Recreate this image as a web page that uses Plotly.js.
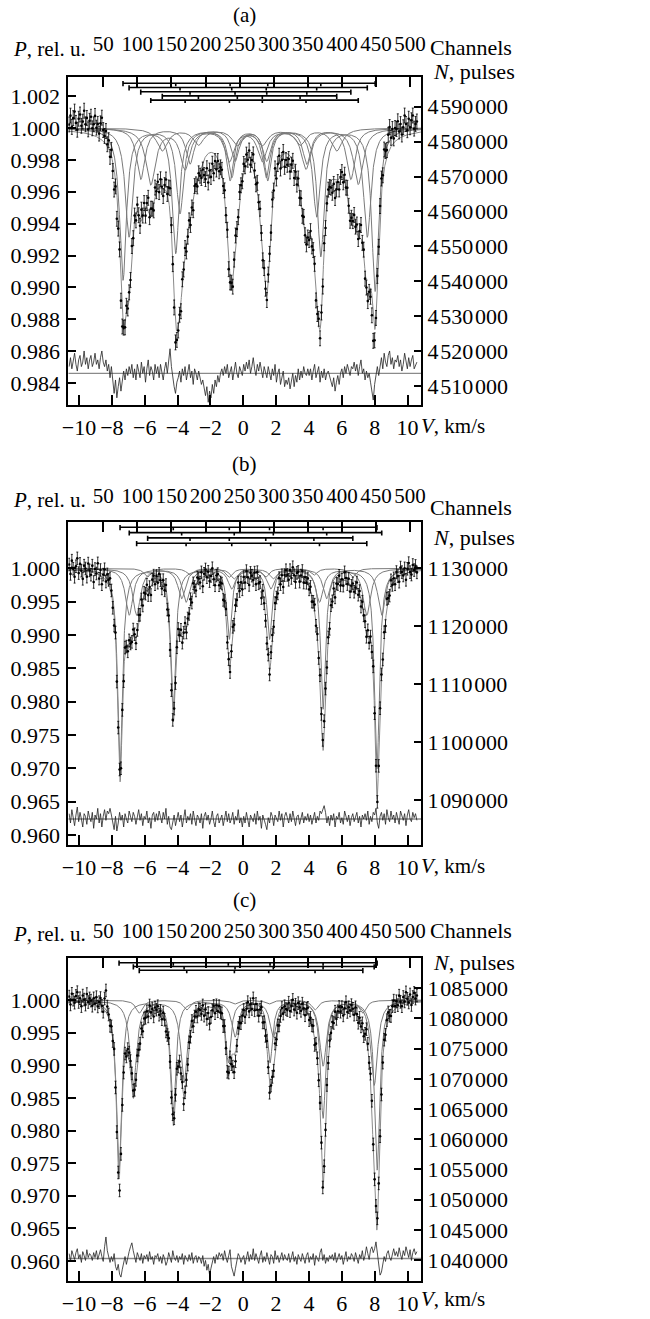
<!DOCTYPE html>
<html><head><meta charset="utf-8">
<script src="https://cdn.plot.ly/plotly-3.0.1.min.js"></script>
<style>html,body{margin:0;padding:0;background:#fff}#chart{width:650px;height:1319px}</style>
</head><body><div id="chart"></div>
<script>
// ---------------- DATA ----------------
const panelLabels = ['(a)', '(b)', '(c)'];
const velocityTicks = [-10, -8, -6, -4, -2, 0, 2, 4, 6, 8, 10];
const channelTicks = [50, 100, 150, 200, 250, 300, 350, 400, 450, 500];
const pTicksA = [0.984, 0.986, 0.988, 0.990, 0.992, 0.994, 0.996, 0.998, 1.000, 1.002];
const pTicksB = [0.960, 0.965, 0.970, 0.975, 0.980, 0.985, 0.990, 0.995, 1.000];
const pTicksC = [0.960, 0.965, 0.970, 0.975, 0.980, 0.985, 0.990, 0.995, 1.000];
const nTicksA = [4510000, 4520000, 4530000, 4540000, 4550000, 4560000, 4570000, 4580000, 4590000];
const nTicksB = [1090000, 1100000, 1110000, 1120000, 1130000];
const nTicksC = [1040000, 1045000, 1050000, 1055000, 1060000, 1065000, 1070000, 1075000, 1080000, 1085000];
// counts at P = 1 (baseline), used for the statistical error bars
const baseCountsA = 4584000, baseCountsB = 1130000, baseCountsC = 1083000;
// velocity calibration: channel -> km/s
const V0 = -10.60, DV = 0.04151;

// sextet line positions (km/s), line depths, line widths (FWHM, km/s)
const sextetPosA = [
  [-7.32, -4.11, -0.80, 1.49, 4.72, 8.03],
  [-6.95, -3.85, -0.70, 1.40, 4.47, 7.55],
  [-6.24, -3.24, -0.50, 1.43, 3.87, 6.55],
  [-4.93, -2.73, -0.36, 1.16, 3.46, 5.69],
  [-5.63, -3.54, -0.84, 1.16, 3.82, 7.00]];
const sextetDepA = [
  [0.0095, 0.0078, 0.0032, 0.0032, 0.0080, 0.0102],
  [0.0068, 0.0053, 0.0030, 0.0030, 0.0055, 0.0068],
  [0.0032, 0.0022, 0.0020, 0.0020, 0.0022, 0.0032],
  [0.0014, 0.0010, 0.0010, 0.0010, 0.0010, 0.0014],
  [0.0035, 0.0025, 0.0020, 0.0020, 0.0025, 0.0035]];
const sextetWidA = [0.50, 0.55, 0.60, 0.80, 0.70];
const stickOrderA = [0, 1, 2, 3, 4];

const sextetPosB = [
  [-7.50, -4.26, -0.85, 1.60, 4.86, 8.14],
  [-6.94, -3.75, -0.55, 1.83, 5.08, 8.43],
  [-6.49, -3.48, -0.70, 1.67, 4.64, 7.52],
  [-5.82, -3.24, -0.85, 1.37, 4.30, 6.67]];
const sextetDepB = [
  [0.0300, 0.0210, 0.0105, 0.0105, 0.0210, 0.0300],
  [0.0070, 0.0045, 0.0015, 0.0015, 0.0045, 0.0070],
  [0.0070, 0.0050, 0.0030, 0.0030, 0.0050, 0.0070],
  [0.0013, 0.0010, 0.0013, 0.0013, 0.0010, 0.0013]];
const sextetWidB = [0.36, 0.55, 0.55, 0.50];
const stickOrderB = [0, 1, 3, 2];

const sextetPosC = [
  [-7.56, -4.26, -0.91, 1.63, 4.86, 8.15],
  [-6.69, -3.60, -0.50, 1.83, 4.86, 7.97],
  [-6.33, -3.44, -0.54, 1.55, 4.37, 7.28]];
const sextetDepC = [
  [0.0262, 0.0172, 0.0095, 0.0095, 0.0180, 0.0260],
  [0.0130, 0.0125, 0.0055, 0.0055, 0.0100, 0.0130],
  [0.0020, 0.0015, 0.0006, 0.0006, 0.0015, 0.0020]];
const sextetWidC = [0.38, 0.50, 0.50];
const stickOrderC = [0, 1, 2];

// residuals (data - fit) every second channel, in units of residUnit
const residUnitA = 1.4e-4, residUnitB = 2e-4, residUnitC = 1.5e-4;
const residA = [
  3,7,2,6,9,4,1,6,8,3,5,10,4,7,2,6,
  8,3,5,9,4,6,2,7,10,5,3,6,1,4,-2,3,
  -4,-9,-3,-11,-6,-2,-8,-4,1,-3,2,-1,3,0,4,-2,
  2,-3,4,1,-2,5,0,3,-4,2,6,-1,3,1,-3,4,
  0,3,-2,4,1,-3,2,5,0,6,11,3,-2,-6,-9,-4,
  -2,1,-4,2,-1,3,-3,0,4,-2,1,-5,2,0,-3,1,
  -2,-5,-3,-7,-10,-6,-13,-8,-11,-5,-9,-3,-6,-1,-4,0,
  2,-1,3,0,4,-2,1,3,-3,2,5,0,-2,3,1,-1,
  4,1,5,2,6,0,3,7,2,-1,4,1,5,2,-2,3,
  1,-2,3,0,-3,2,-1,4,-4,0,2,-5,-2,1,-6,-3,
  -5,-2,-7,-3,0,-6,-1,-4,2,-3,1,-2,3,0,-1,2,
  -1,2,-3,1,4,-2,0,3,-4,1,-2,2,-3,0,1,-1,
  -3,-6,-2,-8,-4,-1,-5,0,2,-2,3,0,4,1,-1,3,
  2,5,1,4,-1,3,6,0,2,-3,1,-2,0,-4,-9,-12,
  -5,0,3,-1,4,7,2,9,5,3,8,10,4,7,2,6,
  5,8,3,6,1,4,9,5,2,7,3,6,8,2,4,5];
const residB = [
  4,-3,7,1,-5,3,9,-2,5,0,-6,4,2,-4,6,1,
  -2,5,-7,3,0,8,-3,4,-6,2,7,-1,6,4,8,3,
  -4,-8,2,-9,-3,5,-1,3,-6,4,0,-3,6,1,-2,5,
  2,-4,3,7,-1,4,-5,2,0,6,-3,1,-7,3,5,-2,
  4,-1,6,2,-3,5,0,8,-4,2,-6,-8,-2,3,-5,1,
  5,-2,3,-6,1,7,-3,2,-1,4,-4,6,0,-5,3,1,
  -3,4,-7,2,5,-1,3,-4,0,6,-2,-6,2,4,-3,1,
  3,-5,1,6,-2,4,-3,0,5,-4,2,-1,7,-3,1,-6,
  2,-3,5,0,-6,3,1,-2,4,-4,6,-1,2,-7,3,0,
  -4,-8,1,-3,5,2,-5,3,0,-2,6,-1,4,-6,2,5,
  1,-3,4,-2,6,0,-5,2,3,-4,1,5,-3,2,-1,4,
  -2,3,-4,1,5,-3,2,-1,6,4,7,10,5,-3,2,-5,
  3,-1,4,-6,2,0,5,-3,1,-4,6,2,-2,3,-5,1,
  4,-2,1,5,-3,2,-6,3,0,4,-1,6,-4,2,-2,5,
  3,8,-3,-7,2,5,-1,4,-4,7,1,-2,6,0,3,-3,
  5,1,-4,6,2,-1,4,-5,3,7,0,-2,5,1,4,-1];
const residC = [
  5,-3,8,2,-1,6,10,0,4,-4,7,3,-2,9,1,5,
  3,-2,6,1,8,-1,4,9,2,-3,12,22,8,3,-4,2,
  -3,5,-8,-12,-6,-16,-19,-11,-4,2,-6,3,7,12,16,8,
  2,-4,6,1,-2,5,-5,3,0,4,-3,7,-1,2,-6,3,
  1,5,-3,2,-5,4,0,-7,-3,6,2,-4,8,1,-2,3,
  -4,2,-1,5,-6,3,0,-3,4,-2,6,-5,1,3,-4,2,
  0,-5,3,-8,-2,-12,-6,-17,-10,-3,2,-5,4,-1,6,2,
  5,-2,8,1,-4,3,9,-8,-13,-18,-10,-3,5,2,-4,0,
  3,-6,1,7,-3,4,-1,10,-2,5,0,-5,3,8,-4,2,
  -3,6,0,-6,4,2,-5,8,-1,3,-4,1,6,-2,4,0,
  -2,5,-4,1,7,-3,2,-6,4,0,-3,5,1,-5,3,6,
  -4,2,-1,5,-7,3,0,-3,6,10,-2,4,-5,1,-3,3,
  0,4,-2,6,-4,2,5,-1,3,-6,1,7,-3,2,-1,5,
  2,-3,6,1,-5,4,0,8,-2,3,12,5,-1,9,12,6,
  10,17,6,-8,-17,-14,-6,2,-3,5,8,1,-2,6,10,3,
  7,2,11,4,-1,8,3,12,5,1,9,-2,6,10,4,7];
// level of the residual baseline on the P scale
const residBaseA = 0.98461, residBaseB = 0.9624, residBaseC = 0.96038;

// ---------------- LAYOUT / DRAWING ----------------
const W = 650, H = 1319;
const XL = 68.3, XR = 421;
const VRANGE = [-10.65, 10.82];
const FONT = "'Liberation Serif', 'Times New Roman', Times, 'DejaVu Serif', serif";
const FS = 21, TFS = 22;
const panels = [
  {pos: sextetPosA, dep: sextetDepA, wid: sextetWidA, sticks: stickOrderA, resid: residA, unit: residUnitA, rbase: residBaseA,
   n0: baseCountsA, pTicks: pTicksA, nTicks: nTicksA, pRange: [0.98262, 1.00322], nRange: [4504527, 4598596],
   top: 76.7, bottom: 405, stick0: 6.6, stickGap: 4.2, chStand: 15, labelY: 15, titleY: 49, chanY: 48, nY: 72, vY: 426},
  {pos: sextetPosB, dep: sextetDepB, wid: sextetWidB, sticks: stickOrderB, resid: residB, unit: residUnitB, rbase: residBaseB,
   n0: baseCountsB, pTicks: pTicksB, nTicks: nTicksB, pRange: [0.9585, 1.00699], nRange: [1082241, 1138034],
   top: 521.7, bottom: 845, stick0: 5.6, stickGap: 5.3, chStand: 8, labelY: 464, titleY: 500, chanY: 507, nY: 538, vY: 866},
  {pos: sextetPosC, dep: sextetDepC, wid: sextetWidC, sticks: stickOrderC, resid: residC, unit: residUnitC, rbase: residBaseC,
   n0: baseCountsC, pTicks: pTicksC, nTicks: nTicksC, pRange: [0.95693, 1.00649], nRange: [1036523, 1090066],
   top: 957.7, bottom: 1281, stick0: 5.0, stickGap: 3.8, chStand: 9, labelY: 900, titleY: 934, chanY: 931, nY: 962, vY: 1299}
];

function absorb(v, pos, dep, w) {
  const h = (w / 2) * (w / 2);
  let s = 0;
  for (let j = 0; j < pos.length; j++) s += dep[j] * h / ((v - pos[j]) * (v - pos[j]) + h);
  return s;
}
function fmtN(n) {
  const s = String(n);
  return s.slice(0, s.length - 6) + '\u200A' + s.slice(-6, -3) + '\u200A' + s.slice(-3);
}

const vFine = [];
for (let v = VRANGE[0]; v <= VRANGE[1] + 1e-9; v += 0.01) vFine.push(v);

const traces = [];
const layout = {
  width: W, height: H, margin: {l: 0, r: 0, t: 0, b: 0},
  paper_bgcolor: '#fff', plot_bgcolor: 'rgba(0,0,0,0)', showlegend: false,
  font: {family: FONT, size: FS, color: '#000'},
  annotations: []
};
const axBase = {showline: true, linewidth: 2, linecolor: '#000', ticks: 'inside', tickwidth: 2, tickcolor: '#000',
  tickangle: 0, showgrid: false, zeroline: false, fixedrange: true, tickfont: {family: FONT, size: TFS, color: '#000'}};

panels.forEach((P, k) => {
  const nx = 2 * k + 1, nx2 = 2 * k + 2;
  const xName = nx === 1 ? 'x' : 'x' + nx, x2Name = 'x' + nx2;
  const yName = nx === 1 ? 'y' : 'y' + nx, y2Name = 'y' + nx2;
  const xKey = nx === 1 ? 'xaxis' : 'xaxis' + nx, x2Key = 'xaxis' + nx2;
  const yKey = nx === 1 ? 'yaxis' : 'yaxis' + nx, y2Key = 'yaxis' + nx2;
  const pxPerP = (P.bottom - P.top) / (P.pRange[1] - P.pRange[0]);

  // sub-spectra
  P.pos.forEach((pos, s) => {
    traces.push({x: vFine, y: vFine.map(v => 1 - absorb(v, pos, P.dep[s], P.wid[s])), xaxis: xName, yaxis: yName,
      mode: 'lines', line: {color: '#7a7a7a', width: 1}, hoverinfo: 'skip'});
  });
  // envelope
  const fitAt = v => 1 - P.pos.reduce((a, pos, s) => a + absorb(v, pos, P.dep[s], P.wid[s]), 0);
  traces.push({x: vFine, y: vFine.map(fitAt), xaxis: xName, yaxis: yName, mode: 'lines',
    line: {color: '#8a8a8a', width: 1}, hoverinfo: 'skip'});
  // residual baseline
  traces.push({x: VRANGE, y: [P.rbase, P.rbase], xaxis: xName, yaxis: yName, mode: 'lines',
    line: {color: '#8a8a8a', width: 1.3}, hoverinfo: 'skip'});
  // experimental points and residual
  const vs = P.resid.map((r, i) => V0 + DV * 2 * i);
  const err = 1 / Math.sqrt(P.n0);
  traces.push({x: vs, y: P.resid.map(r => P.rbase + r * P.unit), xaxis: xName, yaxis: yName, mode: 'lines',
    line: {color: '#222', width: 0.8}, hoverinfo: 'skip'});
  traces.push({x: vs, y: vs.map((v, i) => fitAt(v) + P.resid[i] * P.unit), xaxis: xName, yaxis: yName, mode: 'markers',
    marker: {color: '#000', size: 2.6}, error_y: {type: 'constant', value: err, color: '#000', thickness: 0.8, width: 1},
    hoverinfo: 'skip'});
  // stick diagrams
  P.sticks.forEach((s, r) => {
    const pos = P.pos[s];
    const lev = P.pRange[1] - (P.stick0 + r * P.stickGap) / pxPerP;
    const up = 2.2 / pxPerP, dn = 3 / pxPerP;
    const xs = [pos[0], pos[5], null, pos[0], pos[0], null, pos[5], pos[5], null];
    const ys = [lev, lev, null, lev + up, lev - dn, null, lev + up, lev - dn, null];
    for (let j = 1; j < 5; j++) { xs.push(pos[j], pos[j], null); ys.push(lev, lev - dn, null); }
    traces.push({x: xs, y: ys, xaxis: xName, yaxis: yName, mode: 'lines', line: {color: '#000', width: 1.6},
      hoverinfo: 'skip'});
  });
  // carrier for the channel / count axes
  traces.push({x: [100], y: [P.nRange[0]], xaxis: x2Name, yaxis: y2Name, mode: 'markers',
    marker: {opacity: 0}, hoverinfo: 'skip'});

  const dom = [1 - P.bottom / H, 1 - P.top / H];
  layout[xKey] = Object.assign({}, axBase, {domain: [XL / W, XR / W], anchor: yName, range: VRANGE,
    tickmode: 'array', tickvals: velocityTicks, ticklen: 10, side: 'bottom', ticklabelstandoff: 2});
  layout[x2Key] = Object.assign({}, axBase, {overlaying: xName, anchor: yName, side: 'top',
    range: [(VRANGE[0] - V0) / DV, (VRANGE[1] - V0) / DV], tickmode: 'array', tickvals: channelTicks,
    ticklen: 10, ticklabelstandoff: P.chStand, tickfont: {family: FONT, size: FS, color: '#000'}});
  layout[yKey] = Object.assign({}, axBase, {domain: dom, anchor: xName, range: P.pRange, tickmode: 'array',
    tickvals: P.pTicks, ticktext: P.pTicks.map(t => t.toFixed(3)), ticklen: 8, side: 'left', ticklabelstandoff: 2});
  layout[y2Key] = Object.assign({}, axBase, {overlaying: yName, anchor: xName, side: 'right', range: P.nRange,
    tickmode: 'array', tickvals: P.nTicks, ticktext: P.nTicks.map(fmtN), ticklen: 7, ticklabelstandoff: 0});

  const ann = (txt, px, pyy, xa, fs) => layout.annotations.push({text: txt, x: px / W, y: 1 - pyy / H, xref: 'paper',
    yref: 'paper', xanchor: xa, yanchor: 'middle', showarrow: false, font: {family: FONT, size: fs || FS, color: '#000'}});
  ann(panelLabels[k], 244, P.labelY, 'center');
  ann('<i>P</i>, rel. u.', 88, P.titleY, 'right');
  ann('Channels', 428, P.chanY, 'left', 22);
  ann('<i>N</i>, pulses', 431, P.nY, 'left', 22);
  ann('<i>V</i>, km/s', 419, P.vY, 'left');
});

Plotly.newPlot('chart', traces, layout, {staticPlot: true});
</script>
</body></html>
